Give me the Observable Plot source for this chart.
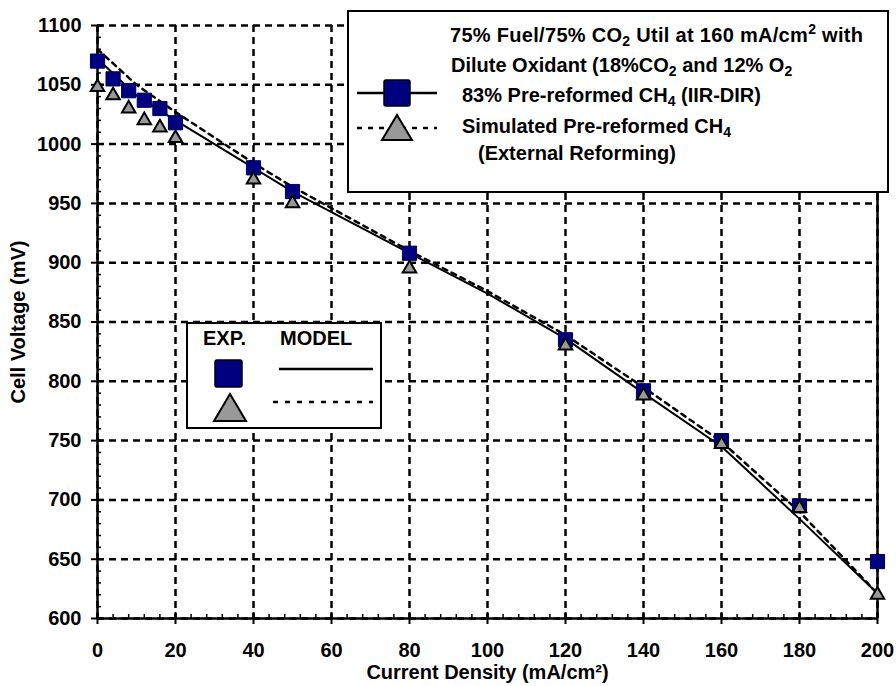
<!DOCTYPE html>
<html>
<head>
<meta charset="utf-8">
<script src="https://cdn.jsdelivr.net/npm/d3@7"></script>
<script src="https://cdn.jsdelivr.net/npm/@observablehq/plot@0.6"></script>
<style>
  html, body { margin: 0; padding: 0; background: white; }
  #wrap { position: relative; width: 896px; height: 686px; font-family: "Liberation Sans", Arial, sans-serif; font-weight: bold; color: black; }
  .abs { position: absolute; white-space: nowrap; }
  .box { position: absolute; background: white; border: 2px solid black; box-sizing: border-box; }
  .lt { position: absolute; white-space: nowrap; font-size: 20px; line-height: 20px; }
  sub { font-size: 14px; vertical-align: -4px; line-height: 0; }
  sup { font-size: 14px; vertical-align: 8px; line-height: 0; }
</style>
</head>
<body>
<div id="wrap"></div>
<script>
// ---- data ----
const currentExp = [0, 4, 8, 12, 16, 20, 40, 50, 80, 120, 140, 160, 180, 200];
const voltIIRExp = [1070, 1055, 1045, 1037, 1030, 1018, 980, 960, 908, 835, 792, 750, 695, 648];
const voltExtExp = [1048, 1041, 1030, 1020, 1014, 1005, 970, 950, 895, 830, 788, 747, 693, 620];
const currentModel = [0, 10, 20, 40, 50, 80, 100, 120, 140, 160, 180, 200];
const voltIIRModel = [1072, 1041, 1020, 980, 960, 908, 874, 836, 790, 745, 684, 621];
const voltExtModel = [1080, 1050, 1027, 984, 964, 910, 876, 839, 795, 749, 690, 621];
const xTicks = [0, 20, 40, 60, 80, 100, 120, 140, 160, 180, 200];
const yTicks = [600, 650, 700, 750, 800, 850, 900, 950, 1000, 1050, 1100];
const xMinor = d3.range(0, 201, 4);
const yMinor = d3.range(600, 1101, 10);

const expIIR = currentExp.map((x, i) => ({x, y: voltIIRExp[i]}));
const expExt = currentExp.map((x, i) => ({x, y: voltExtExp[i]}));
const modIIR = currentModel.map((x, i) => ({x, y: voltIIRModel[i]}));
const modExt = currentModel.map((x, i) => ({x, y: voltExtModel[i]}));

const gridStyle = {stroke: "black", strokeOpacity: 1, strokeWidth: 2.5, strokeDasharray: "7,5"};
const fmt = d => String(d);

const chart = Plot.plot({
  width: 896, height: 686,
  marginLeft: 97, marginRight: 19, marginTop: 25, marginBottom: 68,
  style: {fontFamily: "'Liberation Sans', Arial, sans-serif", fontWeight: "bold", fontSize: "20px", color: "black", background: "white"},
  x: {domain: [0, 200]},
  y: {domain: [600, 1100]},
  marks: [
    Plot.gridX(xTicks, gridStyle),
    Plot.gridY(yTicks, gridStyle),
    Plot.ruleX([200], {stroke: "black", strokeWidth: 2.5}),
    Plot.axisX(xMinor, {tickSize: -4, text: null, label: null, strokeWidth: 1.5}),
    Plot.axisY(yMinor, {tickSize: -4, text: null, label: null, strokeWidth: 1.5}),
    Plot.axisX(xTicks, {tickSize: -6, text: null, label: null, strokeWidth: 2}),
    Plot.axisY(yTicks, {tickSize: -6, text: null, label: null, strokeWidth: 2}),
    Plot.axisX(xTicks, {tickSize: 6, tickPadding: 18, strokeWidth: 2, fontSize: 20, tickFormat: fmt, label: "Current Density (mA/cm²)", labelAnchor: "center", labelArrow: "none", labelOffset: 60}),
    Plot.axisY(yTicks, {tickSize: 6, tickPadding: 10, strokeWidth: 2, fontSize: 20, tickFormat: fmt, label: "Cell Voltage (mV)", labelAnchor: "center", labelArrow: "none", labelOffset: 87}),
    Plot.ruleX([0], {stroke: "black", strokeWidth: 2.5}),
    Plot.ruleY([600], {stroke: "black", strokeWidth: 2.5}),
    Plot.line(modExt, {x: "x", y: "y", stroke: "black", strokeWidth: 2.5, strokeDasharray: "5,5"}),
    Plot.line(modIIR, {x: "x", y: "y", stroke: "black", strokeWidth: 2}),
    Plot.dot(expIIR, {x: "x", y: "y", symbol: "square", r: 8, fill: "#000080", stroke: "#000050", strokeWidth: 1}),
    Plot.dot(expExt, {x: "x", y: "y", symbol: "triangle", r: 5, fill: "#999999", stroke: "black", strokeWidth: 2})
  ]
});

const wrap = document.getElementById("wrap");
wrap.appendChild(chart);

const overlay = document.createElement("div");
overlay.innerHTML = `
  <div class="box" style="left:347px;top:10px;width:542px;height:183px;"></div>
  <div class="lt" style="left:450px;top:25px;letter-spacing:0.3px;">75% Fuel/75% CO<sub>2</sub> Util at 160 mA/cm<sup>2</sup> with</div>
  <div class="lt" style="left:451px;top:55px;">Dilute Oxidant (18%CO<sub>2</sub> and 12% O<sub>2</sub></div>
  <div class="lt" style="left:462px;top:85px;">83% Pre-reformed CH<sub>4</sub> (IIR-DIR)</div>
  <div class="lt" style="left:462px;top:116px;">Simulated Pre-reformed CH<sub>4</sub></div>
  <div class="lt" style="left:478px;top:143px;">(External Reforming)</div>
  <svg class="abs" style="left:347px;top:10px;" width="110" height="180">
    <line x1="10" x2="90" y1="83" y2="83" stroke="black" stroke-width="2.5"/>
    <rect x="37" y="70" width="26" height="26" rx="2" fill="#000080" stroke="black" stroke-width="1.5"/>
    <line x1="10" x2="90" y1="118" y2="118" stroke="black" stroke-width="2.5" stroke-dasharray="5,6"/>
    <polygon points="50,105 65,130 35,130" fill="#999999" stroke="black" stroke-width="2"/>
  </svg>
  <div class="box" style="left:186px;top:322px;width:196px;height:107px;"></div>
  <div class="lt" style="left:203px;top:328px;">EXP.</div>
  <div class="lt" style="left:280px;top:328px;">MODEL</div>
  <svg class="abs" style="left:186px;top:322px;" width="196" height="107">
    <rect x="29" y="38" width="27" height="27" rx="2" fill="#000080" stroke="black" stroke-width="1.5"/>
    <line x1="93" x2="187" y1="47" y2="47" stroke="black" stroke-width="2.5"/>
    <polygon points="44,72 60,99 28,99" fill="#999999" stroke="black" stroke-width="2"/>
    <line x1="87" x2="187" y1="80" y2="80" stroke="black" stroke-width="2.5" stroke-dasharray="5,7"/>
  </svg>
`;
while (overlay.firstElementChild) wrap.appendChild(overlay.firstElementChild);
</script>
</body>
</html>
